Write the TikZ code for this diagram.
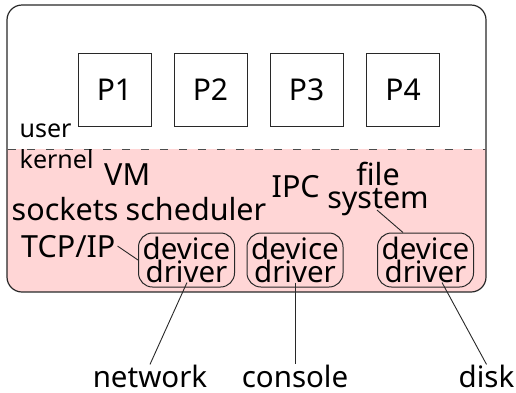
\documentclass[tikz,border=0pt]{standalone}
\usepackage{fontspec}
\setmainfont{Noto Sans}
\usetikzlibrary{calc}
\definecolor{kpink}{RGB}{255,214,214}
\definecolor{kline}{RGB}{40,40,40}
\tikzset{
  bigtxt/.style={inner sep=0pt, font=\fontsize{30.5}{23}\selectfont},
  smalltxt/.style={inner sep=0pt, font=\fontsize{25}{25}\selectfont},
  bottxt/.style={inner sep=0pt, font=\fontsize{29.5}{29.5}\selectfont},
  procbox/.style={draw=kline, line width=1pt, minimum size=73pt, inner sep=0pt, font=\fontsize{30}{30}\selectfont},
  drvbox/.style={draw=kline, line width=1pt, rounded corners=14pt, minimum width=96pt, minimum height=54pt, inner sep=0pt, align=center, font=\fontsize{29.5}{22}\selectfont},
  conn/.style={draw=kline, line width=0.9pt},
}
\begin{document}
\begin{tikzpicture}[x=1pt,y=-1pt]
\useasboundingbox (0,0) rectangle (516,392);
\begin{scope}
\clip[rounded corners=15pt] (7,5) rectangle (486,292);
\fill[kpink] (7,149) rectangle (486,292);
\end{scope}
\draw[kline, line width=1.2pt, rounded corners=15pt] (7,5) rectangle (486,292);
\draw[gray!60!black, line width=1pt, dash pattern=on 8pt off 11pt] (8,149) -- (485,149);

\node[procbox] (p1) at (114.5,89.5) {P1};
\node[procbox] (p2) at (210.5,89.5) {P2};
\node[procbox] (p3) at (306.5,89.5) {P3};
\node[procbox] (p4) at (403,89.5) {P4};

\node[smalltxt, anchor=base west] (user) at (19.5,137) {user};
\node[smalltxt, anchor=base west] (kernel) at (19.5,168) {kernel};
\node[bigtxt, anchor=base west] (vm) at (104,185) {VM};
\node[bigtxt, anchor=base west] (sockets) at (11.5,220) {sockets};
\node[bigtxt, anchor=base west] (sched) at (125.5,220) {scheduler};
\node[bigtxt, anchor=base west] (ipc) at (271.5,197) {IPC};
\node[bigtxt, align=center] (fs) at (378,189) {file\\system};
\node[bigtxt, anchor=base west] (tcp) at (21,257) {TCP/IP};

\node[drvbox] (dd1) at (186.5,260) {device\\driver};
\node[drvbox] (dd2) at (295,260) {device\\driver};
\node[drvbox] (dd3) at (425.5,260) {device\\driver};

\node[bottxt, anchor=base] (net) at (150,387) {network};
\node[bottxt, anchor=base] (con) at (295,387) {console};
\node[bottxt, anchor=base] (disk) at (486.5,387) {disk};

\draw[conn] ($(tcp.east)+(2,0)$) -- (dd1.west);
\draw[conn] ($(fs.south)+(-1,-6)$) -- ($(dd3.north)+(-22.5,0)$);
\draw[conn] ($(dd1.south)+(0.5,-5)$) -- (net.north);
\draw[conn] ($(dd2.south)+(0,-5)$) -- (con.north);
\draw[conn] ($(dd3.south)+(16.5,-5)$) -- (disk.north);
\end{tikzpicture}
\end{document}
